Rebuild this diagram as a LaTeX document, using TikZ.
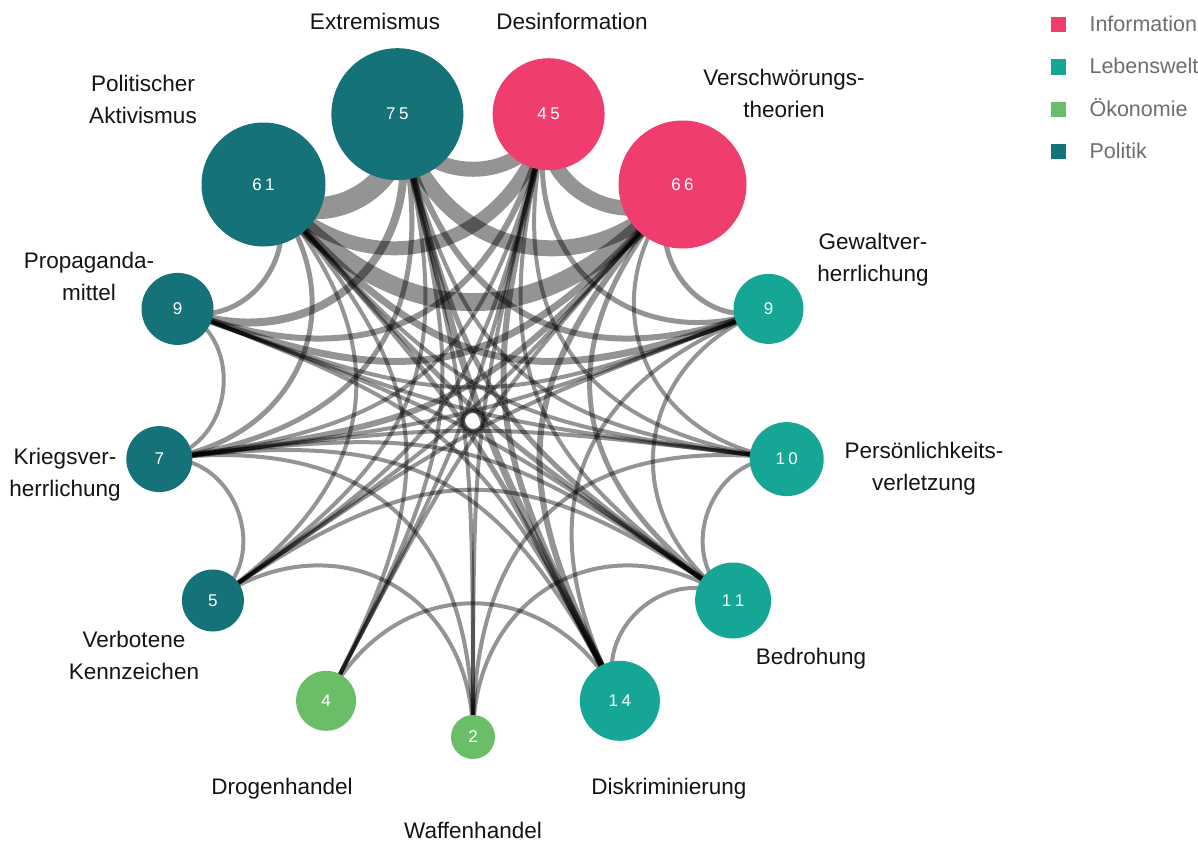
\documentclass[tikz,border=0pt]{standalone}
\usepackage{fontspec}
\setmainfont{Liberation Sans}
\usetikzlibrary{calc}
\pgfdeclarelayer{bg}
\pgfdeclarelayer{edges}
\pgfsetlayers{bg,edges,main}
\definecolor{pol}{RGB}{21,114,121}
\definecolor{info}{RGB}{239,62,110}
\definecolor{leb}{RGB}{22,166,150}
\definecolor{oek}{RGB}{107,190,104}
\definecolor{lblc}{RGB}{20,20,20}
\definecolor{legc}{RGB}{110,110,110}
\tikzset{
  cat/.style={circle, inner sep=0pt, text=white, font=\fontsize{17}{19}\selectfont},
  lbl/.style={align=center, anchor=base, text=lblc, font=\fontsize{22.5}{31.5}\selectfont},
  edge/.style={draw=black, draw opacity=0.42},
  legsq/.style={minimum size=15pt, inner sep=0pt},
  legtx/.style={anchor=base west, text=legc, font=\fontsize{21.5}{24}\selectfont},
}
\newcommand{\dgap}{\hspace{3.5pt}}
\begin{document}
\begin{tikzpicture}[x=1pt, y=-1pt]
\useasboundingbox (0,0) rectangle (1198,843);
\begin{pgfonlayer}{bg}
\fill[white] (0,0) rectangle (1198,843);
\end{pgfonlayer}
\coordinate (O) at (473,421);
% category circles
\node[cat, fill=pol,  minimum size=132pt] (n0)  at (397.4,114.2) {7\dgap5};
\node[cat, fill=info, minimum size=112pt] (n1)  at (548.6,114.2) {4\dgap5};
\node[cat, fill=info, minimum size=128pt] (n2)  at (682.5,184.5) {6\dgap6};
\node[cat, fill=leb,  minimum size=70pt]  (n3)  at (768.5,308.9) {9};
\node[cat, fill=leb,  minimum size=74pt]  (n4)  at (786.7,459.1) {1\dgap0};
\node[cat, fill=leb,  minimum size=76pt]  (n5)  at (733.1,600.5) {1\dgap1};
\node[cat, fill=leb,  minimum size=80pt]  (n6)  at (619.9,700.8) {1\dgap4};
\node[cat, fill=oek,  minimum size=44pt]  (n7)  at (473.0,737.0) {2};
\node[cat, fill=oek,  minimum size=60pt]  (n8)  at (326.1,700.8) {4};
\node[cat, fill=pol,  minimum size=62pt]  (n9)  at (212.9,600.5) {5};
\node[cat, fill=pol,  minimum size=66pt]  (n10) at (159.3,459.1) {7};
\node[cat, fill=pol,  minimum size=72pt]  (n11) at (177.5,308.9) {9};
\node[cat, fill=pol,  minimum size=124pt] (n12) at (263.5,184.5) {6\dgap1};
% connectors
\begin{pgfonlayer}{edges}
\foreach \a/\b/\w in {
  0/12/22, 0/1/15, 1/2/15, 0/2/16, 1/12/14, 2/12/18,
  11/12/5, 11/0/8, 11/1/6, 11/2/7, 11/10/4, 11/3/4, 11/4/4, 11/5/4, 11/6/4,
  10/9/4, 10/12/5, 10/0/5, 10/1/4, 10/2/6, 10/3/4, 10/4/4, 10/5/4, 10/6/4, 10/7/4,
  9/7/4, 9/0/4, 9/1/4, 9/2/4, 9/12/4, 9/3/4, 9/5/4,
  8/6/4, 8/0/4, 8/1/4, 8/2/4, 8/12/4,
  7/0/4, 7/1/4, 7/5/4, 7/4/4,
  6/0/7, 6/12/5, 6/1/6, 6/2/6, 6/5/4, 6/3/4,
  5/4/4, 5/3/4, 5/0/5, 5/1/4, 5/2/5, 5/12/5,
  4/0/4, 4/1/4, 4/12/4, 4/2/4,
  3/2/5, 3/1/5, 3/0/6, 3/12/7}{
  \pgfmathtruncatemacro{\d}{mod(\a-\b+13,13)}
  \pgfmathtruncatemacro{\s}{min(\d,13-\d)}
  \pgfmathsetmacro{\k}{sin(\s*180/13)}
  \draw[edge, line width=\w pt] (n\a.center) .. controls ($(n\a.center)!\k!(O)$) and ($(n\b.center)!\k!(O)$) .. (n\b.center);
}
\end{pgfonlayer}
% labels (anchor = baseline of the last line)
\node[lbl] (l0) at (375,30) {Extremismus};
\node[lbl] (l1) at (572,30) {Desinformation};
\node[lbl] (l2) at (784,117) {Verschwörungs-\\theorien};
\node[lbl] (l3) at (873,281) {Gewaltver-\\herrlichung};
\node[lbl] (l4) at (924,490) {Persönlichkeits-\\verletzung};
\node[lbl] (l5) at (811,664) {Bedrohung};
\node[lbl] (l6) at (669,794) {Diskriminierung};
\node[lbl] (l7) at (473,838) {Waffenhandel};
\node[lbl] (l8) at (282,794) {Drogenhandel};
\node[lbl] (l9) at (134,679) {Verbotene\\Kennzeichen};
\node[lbl] (l10) at (65,496) {Kriegsver-\\herrlichung};
\node[lbl] (l11) at (89,300) {Propaganda-\\mittel};
\node[lbl] (l12) at (143,123) {Politischer\\Aktivismus};
% legend
\node[legsq, fill=info] (q1) at (1058,25) {};
\node[legsq, fill=leb]  (q2) at (1058,67) {};
\node[legsq, fill=oek]  (q3) at (1058,109) {};
\node[legsq, fill=pol]  (q4) at (1058,151) {};
\node[legtx] (t1) at (1086,32) {Information};
\node[legtx] (t2) at (1086,74) {Lebenswelt};
\node[legtx] (t3) at (1086,116) {Ökonomie};
\node[legtx] (t4) at (1086,158) {Politik};
\end{tikzpicture}
\end{document}
